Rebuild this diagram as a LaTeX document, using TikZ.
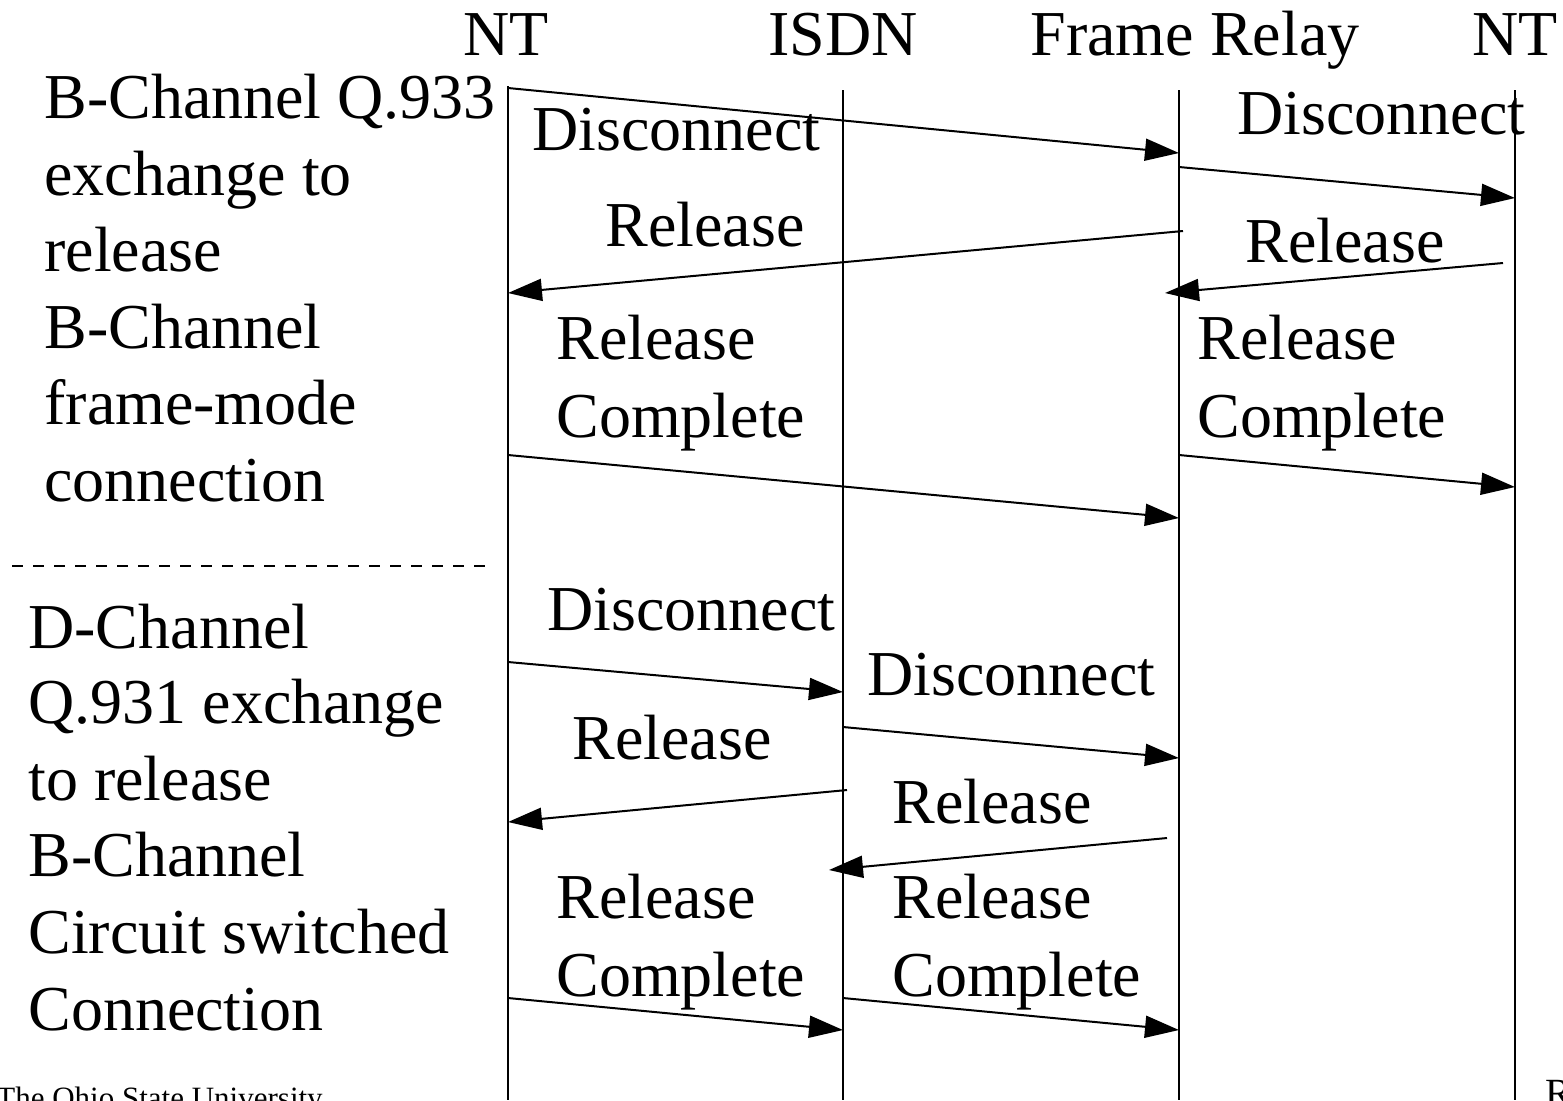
\documentclass[tikz,border=0pt]{standalone}
\usepackage{fontspec}
\setmainfont{Liberation Serif}
\usetikzlibrary{arrows.meta}
\tikzset{
  lbl/.style={anchor=base west, inner sep=0pt, font=\fontsize{32pt}{38pt}\selectfont},
  hdr/.style={anchor=base, inner sep=0pt, font=\fontsize{32pt}{38pt}\selectfont},
  life/.style={line width=1pt},
  msg/.style={line width=1pt, -{Triangle[length=17pt,width=11pt]}},
  foot/.style={anchor=base west, inner sep=0pt, font=\fontsize{15.5pt}{18pt}\selectfont}
}
\begin{document}
\begin{tikzpicture}[x=0.5pt,y=-0.5pt]
\useasboundingbox (0,0) rectangle (1563,1100);
\clip (0,0) rectangle (1563,1100);
% headers
\node[hdr] (h1) at (506,55) {NT};
\node[hdr] (h2) at (843,55) {ISDN};
\node[hdr] (h3) at (1195,55) {Frame Relay};
\node[hdr] (h4) at (1515,55) {NT};
% lifelines
\coordinate (t1) at (508,86); \coordinate (b1) at (508,1100);
\coordinate (t2) at (843,90); \coordinate (b2) at (843,1100);
\coordinate (t3) at (1179,90); \coordinate (b3) at (1179,1100);
\coordinate (t4) at (1515,90); \coordinate (b4) at (1515,1100);
\draw[life] (t1) -- (b1);
\draw[life] (t2) -- (b2);
\draw[life] (t3) -- (b3);
\draw[life] (t4) -- (b4);
% side texts
\node[lbl] (s1a) at (44,118) {B-Channel Q.933};
\node[lbl] (s1b) at (44,195) {exchange to};
\node[lbl] (s1c) at (44,271) {release};
\node[lbl] (s1d) at (44,348) {B-Channel};
\node[lbl] (s1e) at (44,424) {frame-mode};
\node[lbl] (s1f) at (44,501) {connection};
\node[lbl] (s2a) at (28,648) {D-Channel};
\node[lbl] (s2b) at (28,723) {Q.931 exchange};
\node[lbl] (s2c) at (28,800) {to release};
\node[lbl] (s2d) at (28,876) {B-Channel};
\node[lbl] (s2e) at (28,953) {Circuit switched};
\node[lbl] (s2f) at (28,1030) {Connection};
\coordinate (d1) at (12,566); \coordinate (d2) at (492,566);
\draw[line width=1.4pt, dash pattern=on 5.5pt off 5pt] (d1) -- (d2);
% upper messages
\coordinate (a1s) at (508,88);  \coordinate (a1e) at (1179,153);
\coordinate (a2s) at (1179,167); \coordinate (a2e) at (1515,198);
\coordinate (a3s) at (1183,231); \coordinate (a3e) at (508,293);
\coordinate (a4s) at (1503,263); \coordinate (a4e) at (1165,293);
\coordinate (a5s) at (508,455); \coordinate (a5e) at (1179,518);
\coordinate (a6s) at (1179,455); \coordinate (a6e) at (1515,487);
\draw[msg] (a1s) -- (a1e);
\draw[msg] (a2s) -- (a2e);
\draw[msg] (a3s) -- (a3e);
\draw[msg] (a4s) -- (a4e);
\draw[msg] (a5s) -- (a5e);
\draw[msg] (a6s) -- (a6e);
\node[lbl] (l1) at (532,150) {Disconnect};
\node[lbl] (l2) at (1237,134) {Disconnect};
\node[lbl] (l3) at (605,246) {Release};
\node[lbl] (l4) at (1245,262) {Release};
\node[lbl] (l5) at (556,359) {Release};
\node[lbl] (l5b) at (556,437) {Complete};
\node[lbl] (l6) at (1197,359) {Release};
\node[lbl] (l6b) at (1197,437) {Complete};
% lower messages
\coordinate (c1s) at (508,662); \coordinate (c1e) at (843,692);
\coordinate (c2s) at (843,727); \coordinate (c2e) at (1179,758);
\coordinate (c3s) at (847,790); \coordinate (c3e) at (508,822);
\coordinate (c4s) at (1167,838); \coordinate (c4e) at (829,870);
\coordinate (c5s) at (508,998); \coordinate (c5e) at (843,1030);
\coordinate (c6s) at (843,998); \coordinate (c6e) at (1179,1030);
\draw[msg] (c1s) -- (c1e);
\draw[msg] (c2s) -- (c2e);
\draw[msg] (c3s) -- (c3e);
\draw[msg] (c4s) -- (c4e);
\draw[msg] (c5s) -- (c5e);
\draw[msg] (c6s) -- (c6e);
\node[lbl] (m1) at (547,630) {Disconnect};
\node[lbl] (m2) at (867,695) {Disconnect};
\node[lbl] (m3) at (572,759) {Release};
\node[lbl] (m4) at (892,823) {Release};
\node[lbl] (m5) at (556,918) {Release};
\node[lbl] (m5b) at (556,996) {Complete};
\node[lbl] (m6) at (892,918) {Release};
\node[lbl] (m6b) at (892,996) {Complete};
% footer
\node[foot] (f1) at (-4,1108) {The Ohio State University};
\node[foot, font=\fontsize{20pt}{24pt}\selectfont] (f2) at (1545,1106) {Raj Jain};
\end{tikzpicture}
\end{document}
